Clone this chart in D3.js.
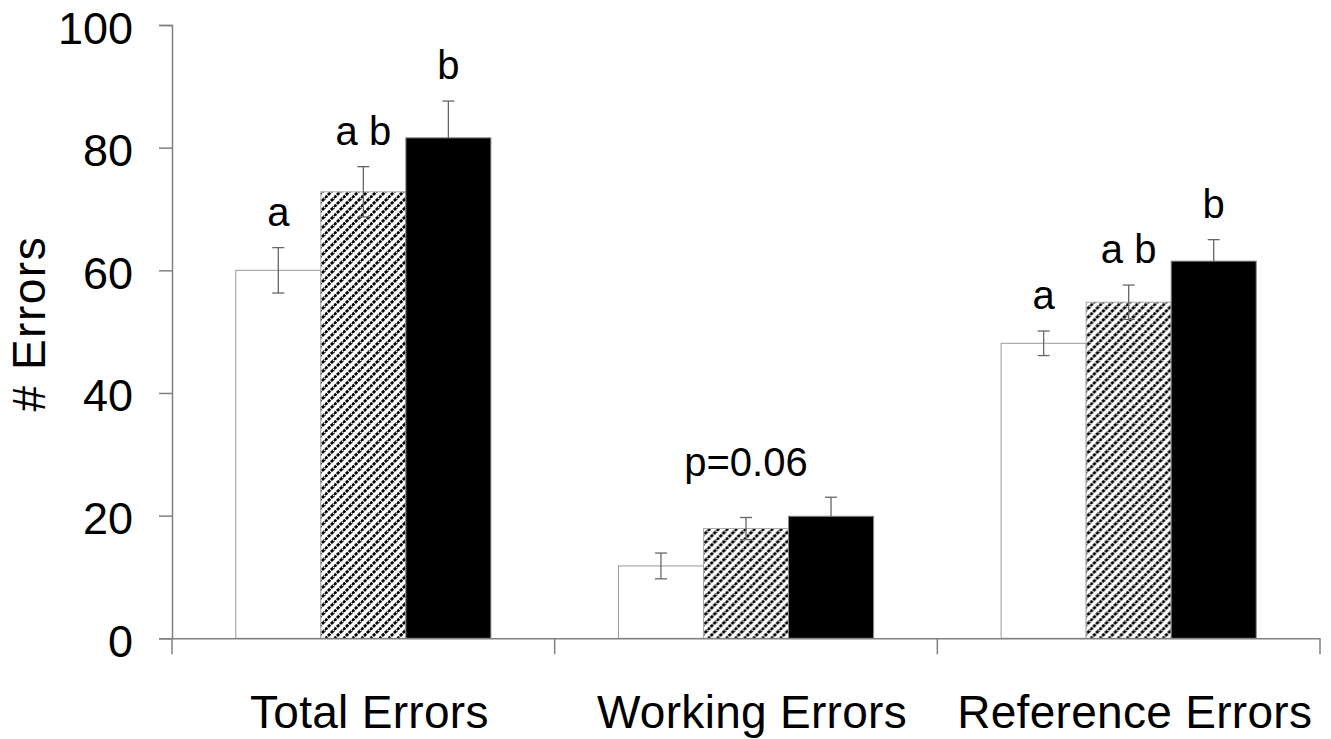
<!DOCTYPE html>
<html>
<head>
<meta charset="utf-8">
<script src="https://cdn.jsdelivr.net/npm/d3@7"></script>
<style>
  body { margin: 0; background: #fff; }
  text { font-family: "Liberation Sans", Arial, sans-serif; fill: #000; }
</style>
</head>
<body>
<div id="chart"></div>
<script>
const categories = ['Total Errors', 'Working Errors', 'Reference Errors'];
const groups = ['white', 'hatched', 'black'];
const means = [
  [60.0, 72.8, 81.6],
  [11.8, 17.9, 19.9],
  [48.1, 54.8, 61.5]
];
const errors = [
  [3.7, 4.1, 6.0],
  [2.1, 1.8, 3.1],
  [2.0, 2.8, 3.5]
];
const letters = [
  ['a', 'a b', 'b'],
  [],
  ['a', 'a b', 'b']
];
const groupNotes = ['', 'p=0.06', ''];
const yTicks = [0, 20, 40, 60, 80, 100];

const width = 1331;
const height = 739;

const svg = d3.select('#chart')
  .append('svg')
    .attr('width', width)
    .attr('height', height)
    .attr('viewBox', `0 0 ${width} ${height}`);

// dotted diagonal hatch
const defs = svg.append('defs');
const pat = defs.append('pattern')
    .attr('id', 'hatch')
    .attr('patternUnits', 'userSpaceOnUse')
    .attr('width', 9)
    .attr('height', 9);
pat.append('rect').attr('width', 9).attr('height', 9).attr('fill', '#fff');
pat.append('path')
    .attr('d', 'M-2.25,2.25 l4.5,-4.5 M0,9 l9,-9 M6.75,11.25 l4.5,-4.5')
    .attr('stroke', '#000')
    .attr('stroke-width', 2.8)
    .attr('stroke-dasharray', '3.2 1');

const x0 = d3.scaleBand()
    .domain(categories)
    .range([172, 1320]);

const x1 = d3.scaleBand()
    .domain(groups)
    .range([0, x0.bandwidth()])
    .paddingInner(0)
    .paddingOuter(0.75);

const y = d3.scaleLinear()
    .domain([0, 100])
    .range([638.3, 25]);

const fills = {white: '#fff', hatched: 'url(#hatch)', black: '#000'};
const strokes = {white: '#999', hatched: '#aaa', black: '#888'};

const rows = categories.map((c, i) => ({
  cat: c,
  bars: groups.map((g, j) => ({
    cat: c, group: g, mean: means[i][j], se: errors[i][j], letter: letters[i][j] || ''
  })),
  note: groupNotes[i]
}));

const catG = svg.selectAll('.cat')
  .data(rows)
  .enter()
    .append('g')
    .attr('class', 'cat')
    .attr('transform', d => `translate(${x0(d.cat)},0)`);

catG.selectAll('.bar')
  .data(d => d.bars)
  .enter()
    .append('rect')
    .attr('class', 'bar')
    .attr('x', d => x1(d.group))
    .attr('y', d => y(d.mean))
    .attr('width', x1.bandwidth())
    .attr('height', d => y(0) - y(d.mean))
    .attr('fill', d => fills[d.group])
    .attr('stroke', d => strokes[d.group])
    .attr('stroke-width', 1);

// whiskers; the black bar only shows the upper half
const whisk = catG.selectAll('.whisk')
  .data(d => d.bars)
  .enter()
    .append('g')
    .attr('class', 'whisk')
    .attr('transform', d => `translate(${x1(d.group) + x1.bandwidth() / 2},0)`)
    .attr('stroke', '#666')
    .attr('stroke-width', 1.3);

whisk.append('line')
    .attr('y1', d => y(d.mean + d.se))
    .attr('y2', d => d.group === 'black' ? y(d.mean) : y(d.mean - d.se));
whisk.append('line')
    .attr('x1', -6).attr('x2', 6)
    .attr('y1', d => y(d.mean + d.se))
    .attr('y2', d => y(d.mean + d.se));
whisk.filter(d => d.group !== 'black')
  .append('line')
    .attr('x1', -6).attr('x2', 6)
    .attr('y1', d => y(d.mean - d.se))
    .attr('y2', d => y(d.mean - d.se));

// significance letters
catG.selectAll('.letter')
  .data(d => d.bars.filter(b => b.letter))
  .enter()
    .append('text')
    .attr('class', 'letter')
    .attr('x', d => x1(d.group) + x1.bandwidth() / 2)
    .attr('y', d => y(d.mean + d.se) - 22)
    .attr('text-anchor', 'middle')
    .style('font-size', '40px')
    .text(d => d.letter);

catG.filter(d => d.note)
  .append('text')
    .attr('x', x0.bandwidth() / 2)
    .attr('y', d => y(d3.max(d.bars, b => b.mean + b.se)) - 21)
    .attr('text-anchor', 'middle')
    .style('font-size', '40px')
    .text(d => d.note);

// y axis
const yAxis = svg.append('g')
    .attr('transform', 'translate(172,0)')
    .call(d3.axisLeft(y).tickValues(yTicks).tickSize(13).tickPadding(26));
yAxis.select('.domain').attr('stroke', '#808080').attr('stroke-width', 1.5);
yAxis.selectAll('.tick line').attr('stroke', '#808080').attr('stroke-width', 1.5);
yAxis.selectAll('.tick text')
    .style('font-size', '45px')
    .style('font-family', '"Liberation Sans", Arial, sans-serif')
    .attr('fill', '#000')
    .attr('dy', '0.4em');

// x axis
const xAxis = svg.append('g')
    .attr('transform', `translate(0,${y(0)})`)
    .call(d3.axisBottom(x0).tickSize(0).tickPadding(57));
xAxis.select('.domain').attr('stroke', '#808080').attr('stroke-width', 1.5);
xAxis.selectAll('.tick text')
    .style('font-size', '46px')
    .style('font-family', '"Liberation Sans", Arial, sans-serif')
    .style('letter-spacing', '0.3px')
    .attr('fill', '#000')
    .attr('dx', 6);

const bounds = categories.map(c => x0(c)).concat([x0.range()[1]]);
xAxis.selectAll('.sep')
  .data(bounds)
  .enter()
    .append('line')
    .attr('class', 'sep')
    .attr('x1', d => d).attr('x2', d => d)
    .attr('y1', 0).attr('y2', 16)
    .attr('stroke', '#808080')
    .attr('stroke-width', 1.5);

// y label
svg.append('text')
    .attr('transform', `translate(45,${(y(0) + y(100)) / 2 - 8}) rotate(-90)`)
    .attr('text-anchor', 'middle')
    .style('font-size', '46px')
    .style('letter-spacing', '1.5px')
    .text('# Errors');
</script>
</body>
</html>
